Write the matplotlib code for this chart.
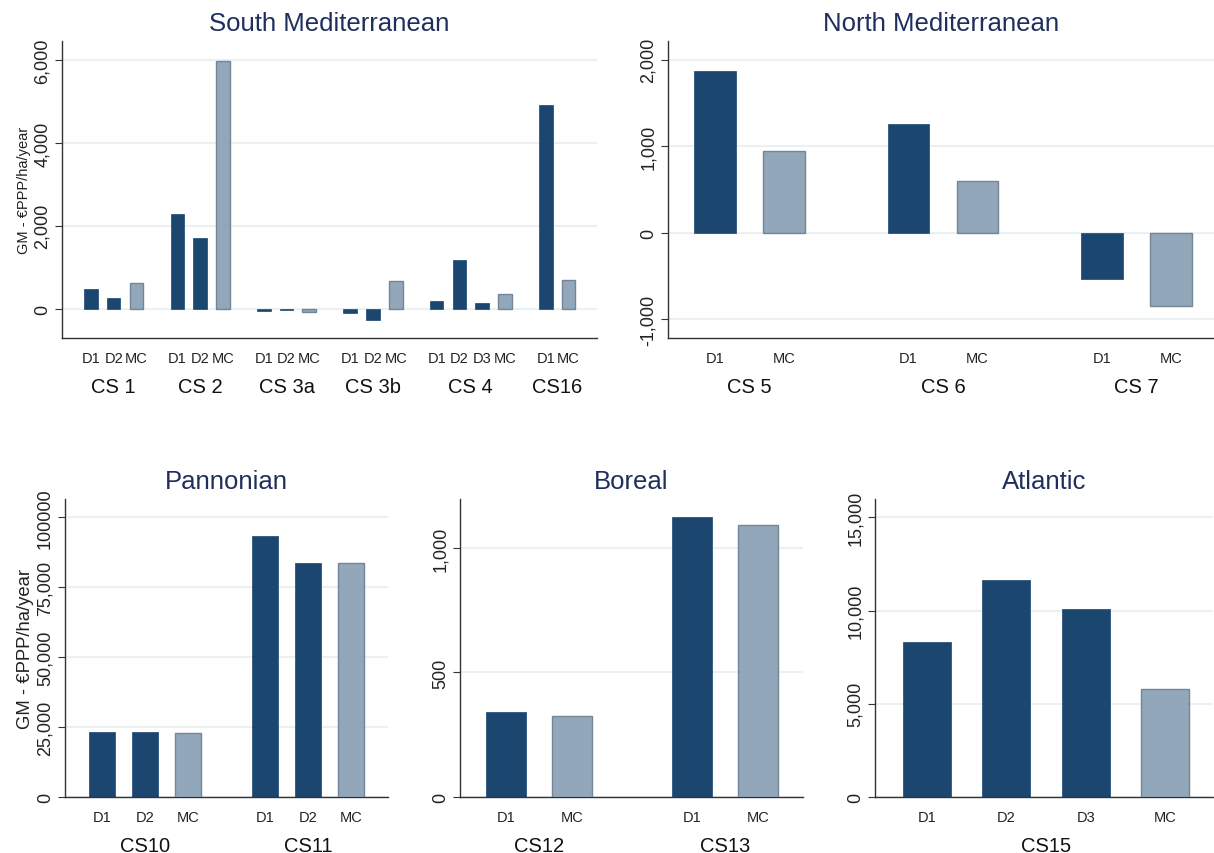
import numpy as np
import matplotlib
matplotlib.use("Agg")
from matplotlib import pyplot as plt

plt.rcParams['font.family'] = ['Liberation Sans', 'DejaVu Sans']

# ---- data (GM - EUR PPP/ha/year) ----
sm_groups = ["CS 1", "CS 2", "CS 3a", "CS 3b", "CS 4", "CS16"]
sm_bars = [["D1", "D2", "MC"], ["D1", "D2", "MC"], ["D1", "D2", "MC"],
           ["D1", "D2", "MC"], ["D1", "D2", "D3", "MC"], ["D1", "MC"]]
sm_values = [[485, 268, 618], [2285, 1705, 5980], [-65, -32, -88],
             [-96, -268, 676], [194, 1180, 138, 347], [4922, 692]]

nm_groups = ["CS 5", "CS 6", "CS 7"]
nm_bars = [["D1", "MC"], ["D1", "MC"], ["D1", "MC"]]
nm_values = [[1863, 942], [1252, 591], [-537, -843]]

pa_groups = ["CS10", "CS11"]
pa_bars = [["D1", "D2", "MC"], ["D1", "D2", "MC"]]
pa_values = [[23400, 23400, 22900], [93300, 83650, 83750]]

bo_groups = ["CS12", "CS13"]
bo_bars = [["D1", "MC"], ["D1", "MC"]]
bo_values = [[343, 324], [1125, 1091]]

at_groups = ["CS15"]
at_bars = [["D1", "D2", "D3", "MC"]]
at_values = [[8290, 11620, 10060, 5765]]

DARK = "#1b4670"
LIGHT = "#8ca2b7"
LIGHT_EDGE = "#6f8192"
GRID = "#e9f1f3"
TITLE_C = "#1f2f5c"


def panel(fig, rect, title, groups, bars, values, ylim, xlim, yticks, ytlabels,
          ylabel=None, ylabel_size=13):
    ax = fig.add_axes(rect)
    pos = 0.0
    for g, (labs, vals) in enumerate(zip(bars, values)):
        xs = []
        for lab, v in zip(labs, vals):
            if lab == "MC":
                ax.bar(pos, v, width=0.6, color=LIGHT, edgecolor=LIGHT_EDGE,
                       linewidth=1.0, alpha=0.95, zorder=3)
            else:
                ax.bar(pos, v, width=0.6, color=DARK, edgecolor=DARK,
                       linewidth=0.5, zorder=2)
            ax.text(pos, -0.045, lab, transform=ax.get_xaxis_transform(),
                    ha="center", va="top", fontsize=10.5, color="#222222")
            xs.append(pos)
            pos += 1
        ax.text(np.mean(xs), -0.13, groups[g], transform=ax.get_xaxis_transform(),
                ha="center", va="top", fontsize=14.5, color="#111111")
        pos += 0.8
    ax.set_xlim(*xlim)
    ax.set_ylim(*ylim)
    ax.set_xticks([])
    ax.set_yticks(yticks)
    ax.set_yticklabels(ytlabels, rotation=90, va="center", fontsize=13, color="#222222")
    ax.tick_params(axis="y", length=5, width=0.8, color="#333333", pad=3)
    ax.yaxis.grid(True, color=GRID, linewidth=1.5, zorder=0)
    ax.set_axisbelow(True)
    for s in ["top", "right"]:
        ax.spines[s].set_visible(False)
    for s in ["left", "bottom"]:
        ax.spines[s].set_color("#333333")
        ax.spines[s].set_linewidth(1.0)
    ax.set_title(title, fontsize=18.5, color=TITLE_C, pad=8)
    if ylabel:
        ax.set_ylabel(ylabel, fontsize=ylabel_size, color="#222222", labelpad=2)
    return ax


fig = plt.figure(figsize=(12.14, 8.54), dpi=100)

ylab = "GM - \u20acPPP/ha/year"

panel(fig, [0.0511, 0.603, 0.4405, 0.3478], "South Mediterranean",
      sm_groups, sm_bars, sm_values, (-706, 6457), (-1.27, 22.24),
      [0, 2000, 4000, 6000], ["0", "2,000", "4,000", "6,000"],
      ylabel=ylab, ylabel_size=10.5)

panel(fig, [0.5502, 0.603, 0.4498, 0.3478], "North Mediterranean",
      nm_groups, nm_bars, nm_values, (-1219, 2215), (-0.68, 7.22),
      [-1000, 0, 1000, 2000], ["-1,000", "0", "1,000", "2,000"])

panel(fig, [0.0535, 0.0656, 0.266, 0.349], "Pannonian",
      pa_groups, pa_bars, pa_values, (0, 106550), (-0.86, 6.66),
      [0, 25000, 50000, 75000, 100000],
      ["0", "25,000", "50,000", "75,000", "100000"],
      ylabel=ylab, ylabel_size=13.3)

panel(fig, [0.3789, 0.0656, 0.2825, 0.349], "Boreal",
      bo_groups, bo_bars, bo_values, (0, 1197), (-0.69, 4.47),
      [0, 500, 1000], ["0", "500", "1,000"])

panel(fig, [0.7208, 0.0656, 0.2784, 0.349], "Atlantic",
      at_groups, at_bars, at_values, (0, 15985), (-0.65, 3.6),
      [0, 5000, 10000, 15000], ["0", "5,000", "10,000", "15,000"])

fig.savefig("out.png", dpi=100, facecolor="white")
